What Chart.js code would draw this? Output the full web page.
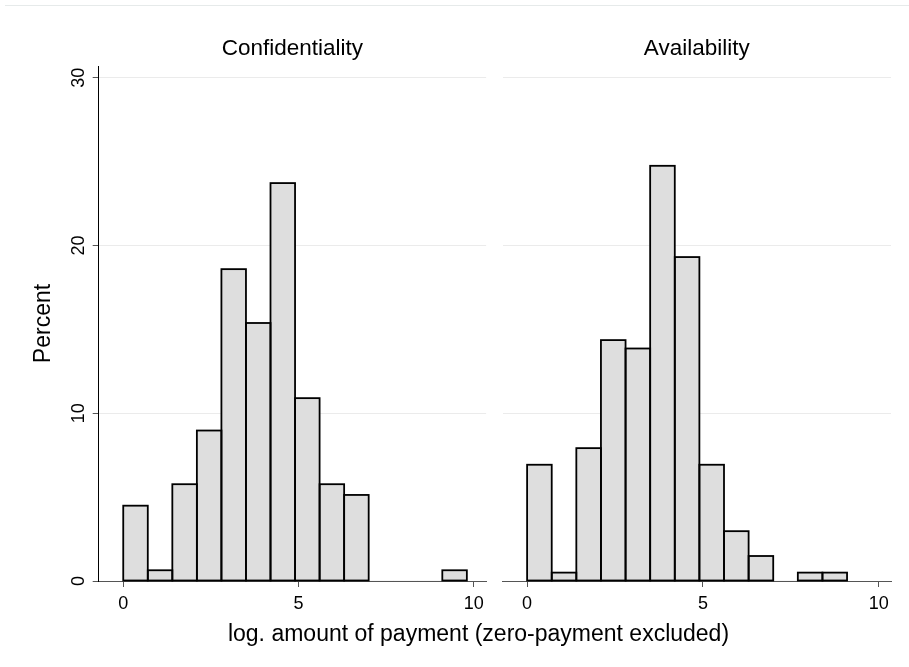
<!DOCTYPE html>
<html>
<head>
<meta charset="utf-8">
<title>Log payment amount by incident type</title>
<script src="https://cdn.jsdelivr.net/npm/chart.js@4/dist/chart.umd.min.js"></script>
<style>
  html, body { margin: 0; padding: 0; background: #ffffff; }
  #wrap { position: relative; width: 909px; height: 667px; overflow: hidden;
          font-family: "Liberation Sans", Arial, sans-serif; }
  #frame { position: absolute; left: 5px; right: 0; top: 5px; height: 0;
           border-top: 1px solid #e6eaea; }
  #left  { position: absolute; left: 0;     top: 0; }
  #right { position: absolute; left: 490px; top: 0; }
  #xtitle { position: absolute; left: 478.5px; top: 620px; transform: translateX(-50%);
            white-space: nowrap; font-size: 23px; line-height: 27px; color: #000; }
</style>
</head>
<body>
<div id="wrap">
  <div id="frame"></div>
  <canvas id="left" width="490" height="667"></canvas>
  <canvas id="right" width="419" height="667"></canvas>
  <div id="xtitle"></div>
</div>
<script>
// Histogram bins: equal width, starting at 0
const binWidth = 0.7;

// Percent of cases per bin
const confidentialityPct = [4.49, 0.64, 5.77, 8.97, 18.59, 15.38, 23.72, 10.90, 5.77, 5.13, 0, 0, 0, 0.64];
const availabilityPct    = [6.93, 0.50, 7.92, 14.36, 13.86, 24.75, 19.31, 6.93, 2.97, 1.49, 0, 0.50, 0.50];

// Axis ticks and labels
const xTicks = [0, 5, 10];
const yTicks = [0, 10, 20, 30];
const panelTitles = ['Confidentiality', 'Availability'];
const yTitle = 'Percent';
const xTitle = 'log. amount of payment (zero-payment excluded)';

const FONT = '"Liberation Sans", Arial, sans-serif';

document.getElementById('xtitle').textContent = xTitle;

// Outline every non-empty bin with a centred black stroke
const binOutline = {
  id: 'binOutline',
  afterDatasetsDraw(chart) {
    const ctx = chart.ctx;
    const ds = chart.data.datasets[0];
    const meta = chart.getDatasetMeta(0);
    ctx.save();
    ctx.strokeStyle = '#000000';
    ctx.lineWidth = 1.8;
    meta.data.forEach((bar, i) => {
      if (!ds.data[i].y) return;
      const p = bar.getProps(['x', 'y', 'base', 'width'], true);
      ctx.strokeRect(p.x - p.width / 2, p.y, p.width, p.base - p.y);
    });
    ctx.restore();
  }
};

function makePanel(canvasId, title, pct, showY) {
  const points = pct.map((v, i) => ({ x: (i + 0.5) * binWidth, y: v }));
  return new Chart(document.getElementById(canvasId), {
    type: 'bar',
    data: {
      datasets: [{
        data: points,
        backgroundColor: '#dedede',
        borderWidth: 0,
        barPercentage: 1,
        categoryPercentage: 1
      }]
    },
    options: {
      responsive: false,
      animation: false,
      devicePixelRatio: 1,
      events: [],
      layout: { padding: { left: 0, right: showY ? 3 : 18, top: 0, bottom: 0 } },
      plugins: {
        legend: { display: false },
        tooltip: { enabled: false },
        title: {
          display: true,
          fullSize: false,
          text: title,
          color: '#000000',
          font: { family: FONT, size: 22.5, weight: 'normal', lineHeight: 1.2 },
          padding: { top: 35.5, bottom: 3.5 }
        }
      },
      scales: {
        x: {
          type: 'linear',
          min: -0.7,
          max: 10.35,
          offset: false,
          afterBuildTicks: s => { s.ticks = xTicks.map(v => ({ value: v })); },
          afterFit: s => { s.height = 86; },
          grid: { drawOnChartArea: false, drawTicks: true, tickLength: 6, tickColor: '#555555', offset: false },
          border: { display: true, color: '#555555', width: 1 },
          ticks: { color: '#000000', font: { family: FONT, size: 18 }, padding: 6,
                   maxRotation: 0, autoSkip: false }
        },
        y: {
          min: 0,
          max: 30.7,
          afterBuildTicks: s => { s.ticks = yTicks.map(v => ({ value: v })); },
          afterFit: s => { s.width = showY ? 98.7 : 12.5; },
          grid: {
            color: c => (c.tick && c.tick.value === 0) ? 'rgba(0,0,0,0)' : '#ebebeb',
            lineWidth: 1,
            drawTicks: showY,
            tickLength: 6,
            tickColor: '#555555'
          },
          border: { display: showY, color: '#000000', width: 1 },
          ticks: { display: showY, color: '#000000', font: { family: FONT, size: 18 },
                   minRotation: 90, maxRotation: 90, crossAlign: 'center', padding: 3.7 },
          title: { display: showY, text: yTitle, color: '#000000',
                   font: { family: FONT, size: 23 }, padding: { top: 30, bottom: 0 } }
        }
      }
    },
    plugins: [binOutline]
  });
}

makePanel('left', panelTitles[0], confidentialityPct, true);
makePanel('right', panelTitles[1], availabilityPct, false);
</script>
</body>
</html>
